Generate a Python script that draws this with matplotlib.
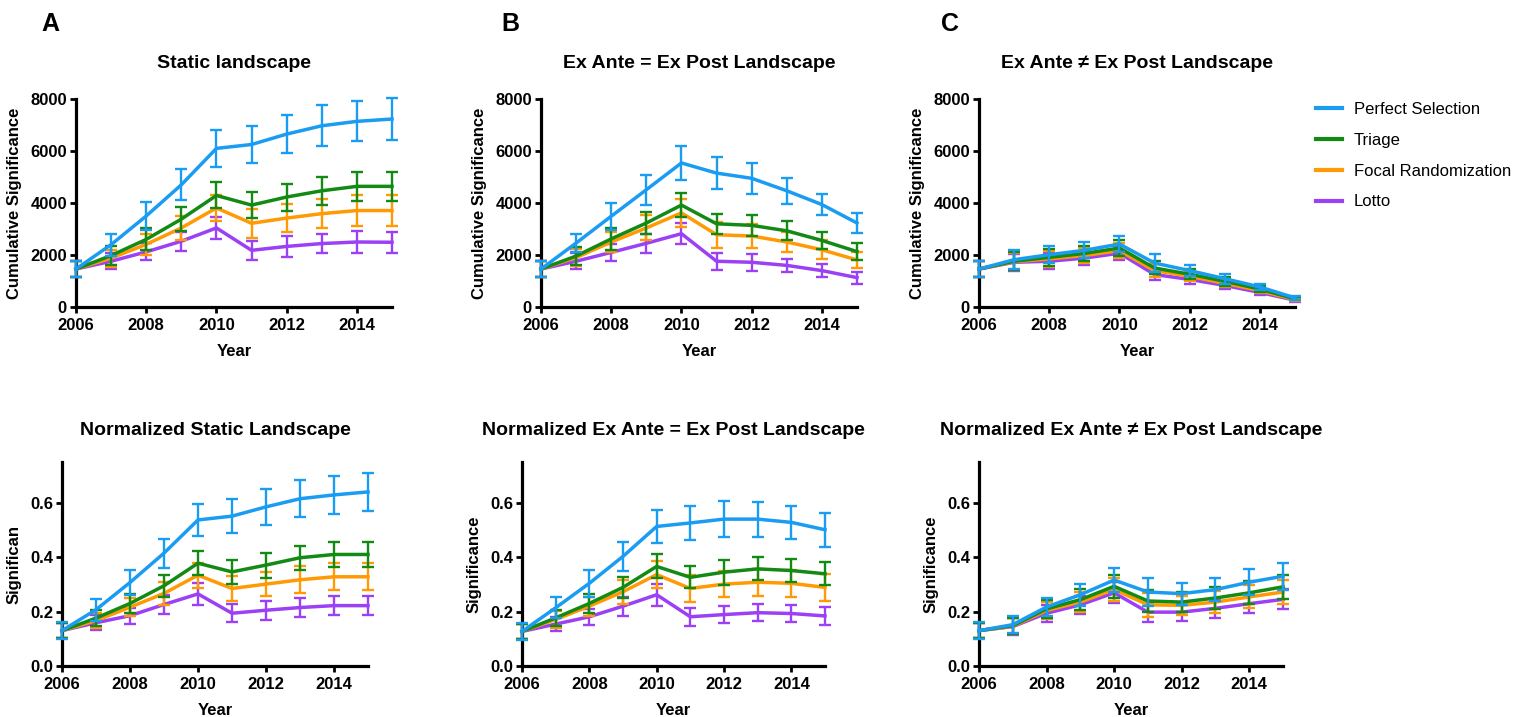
import numpy as np
import matplotlib
matplotlib.use("Agg")
import matplotlib.pyplot as plt

plt.rcParams['font.family'] = ['Liberation Sans', 'DejaVu Sans']

# --------------------------------------------------
# Data
# --------------------------------------------------
years = [2006, 2007, 2008, 2009, 2010, 2011, 2012, 2013, 2014, 2015]
series = ["Perfect Selection", "Triage", "Focal Randomization", "Lotto"]
colors = ["#1a9cf3", "#138a13", "#ff9a05", "#9b40f5"]

# rows: Perfect Selection, Triage, Focal Randomization, Lotto
static_mean = [
    [1460, 2400, 3500, 4700, 6100, 6250, 6650, 6970, 7140, 7230],
    [1460, 1980, 2600, 3380, 4290, 3920, 4230, 4470, 4640, 4640],
    [1460, 1880, 2410, 3040, 3810, 3220, 3420, 3590, 3710, 3710],
    [1460, 1760, 2120, 2530, 3040, 2180, 2330, 2440, 2500, 2490],
]
static_err = [
    [300, 420, 550, 600, 700, 720, 740, 790, 770, 790],
    [300, 350, 420, 450, 500, 500, 520, 540, 560, 560],
    [300, 330, 400, 460, 510, 550, 550, 560, 580, 580],
    [300, 300, 330, 370, 420, 370, 390, 380, 410, 400],
]

equal_mean = [
    [1460, 2460, 3490, 4510, 5540, 5150, 4950, 4470, 3940, 3230],
    [1460, 1960, 2620, 3230, 3920, 3200, 3140, 2930, 2560, 2130],
    [1460, 1900, 2500, 3040, 3620, 2780, 2730, 2500, 2200, 1810],
    [1460, 1760, 2100, 2450, 2820, 1760, 1720, 1600, 1400, 1130],
]
equal_err = [
    [300, 360, 520, 570, 640, 620, 600, 500, 420, 390],
    [300, 340, 420, 430, 460, 390, 410, 370, 340, 330],
    [300, 330, 400, 480, 530, 500, 450, 400, 360, 320],
    [300, 300, 330, 370, 410, 320, 330, 260, 250, 230],
]

unequal_mean = [
    [1460, 1820, 2010, 2180, 2420, 1690, 1400, 1090, 770, 350],
    [1460, 1760, 1910, 2060, 2270, 1500, 1260, 990, 690, 310],
    [1460, 1740, 1850, 1980, 2170, 1400, 1180, 910, 630, 280],
    [1460, 1720, 1760, 1880, 2070, 1250, 1060, 830, 560, 260],
]
unequal_err = [
    [300, 360, 320, 310, 320, 330, 220, 190, 100, 80],
    [300, 340, 330, 300, 300, 250, 200, 170, 110, 60],
    [300, 330, 320, 300, 290, 240, 190, 160, 100, 60],
    [300, 320, 300, 280, 280, 220, 180, 150, 90, 50],
]

norm_static_mean = [
    [0.130, 0.207, 0.307, 0.415, 0.537, 0.551, 0.585, 0.615, 0.629, 0.640],
    [0.130, 0.176, 0.230, 0.295, 0.378, 0.346, 0.371, 0.398, 0.410, 0.410],
    [0.130, 0.167, 0.216, 0.267, 0.334, 0.285, 0.301, 0.317, 0.328, 0.328],
    [0.130, 0.159, 0.185, 0.226, 0.265, 0.194, 0.205, 0.215, 0.222, 0.222],
]
norm_static_err = [
    [0.030, 0.040, 0.047, 0.053, 0.060, 0.062, 0.065, 0.068, 0.069, 0.070],
    [0.027, 0.030, 0.035, 0.040, 0.045, 0.044, 0.046, 0.045, 0.047, 0.047],
    [0.027, 0.028, 0.033, 0.042, 0.046, 0.047, 0.045, 0.049, 0.050, 0.050],
    [0.027, 0.027, 0.030, 0.035, 0.040, 0.034, 0.035, 0.034, 0.034, 0.034],
]

norm_equal_mean = [
    [0.127, 0.214, 0.304, 0.403, 0.513, 0.526, 0.540, 0.540, 0.528, 0.501],
    [0.127, 0.177, 0.230, 0.289, 0.366, 0.326, 0.345, 0.357, 0.351, 0.339],
    [0.127, 0.171, 0.220, 0.273, 0.336, 0.285, 0.301, 0.308, 0.304, 0.289],
    [0.127, 0.154, 0.181, 0.220, 0.262, 0.181, 0.189, 0.196, 0.193, 0.184],
]
norm_equal_err = [
    [0.030, 0.038, 0.050, 0.054, 0.060, 0.062, 0.066, 0.064, 0.060, 0.062],
    [0.027, 0.030, 0.036, 0.040, 0.044, 0.040, 0.046, 0.042, 0.044, 0.043],
    [0.027, 0.030, 0.035, 0.045, 0.050, 0.050, 0.048, 0.049, 0.050, 0.050],
    [0.027, 0.027, 0.030, 0.035, 0.040, 0.033, 0.032, 0.031, 0.031, 0.033],
]

norm_unequal_mean = [
    [0.130, 0.152, 0.217, 0.262, 0.316, 0.272, 0.266, 0.281, 0.308, 0.330],
    [0.130, 0.148, 0.210, 0.244, 0.293, 0.239, 0.235, 0.250, 0.269, 0.291],
    [0.130, 0.146, 0.204, 0.235, 0.281, 0.225, 0.223, 0.235, 0.254, 0.272],
    [0.130, 0.145, 0.194, 0.225, 0.269, 0.198, 0.198, 0.212, 0.229, 0.245],
]
norm_unequal_err = [
    [0.030, 0.030, 0.033, 0.041, 0.044, 0.053, 0.040, 0.043, 0.048, 0.049],
    [0.027, 0.030, 0.033, 0.038, 0.042, 0.042, 0.038, 0.040, 0.042, 0.045],
    [0.027, 0.030, 0.033, 0.037, 0.042, 0.045, 0.036, 0.040, 0.042, 0.045],
    [0.027, 0.030, 0.032, 0.033, 0.038, 0.035, 0.032, 0.036, 0.035, 0.037],
]

# --------------------------------------------------
# Layout (pixel boxes converted to figure fractions)
# --------------------------------------------------
W, H = 1515, 717
fig = plt.figure(figsize=(W / 100, H / 100), dpi=100)


def px_axes(x0, x1, ytop, ybot):
    return fig.add_axes([x0 / W, 1 - ybot / H, (x1 - x0) / W, (ybot - ytop) / H])


def panel(ax, mean, err, title, ylabel, top_row):
    for i in [3, 2, 1, 0]:
        cont = ax.errorbar(years, mean[i], yerr=err[i], color=colors[i], lw=2.5,
                           elinewidth=1.7, capsize=4, capthick=1.7,
                           label=series[i], zorder=3 + (3 - i))
        data_line, caps, bars = cont.lines
        data_line.set_clip_on(False)
        for a in list(caps) + list(bars):
            a.set_clip_on(False)
    ax.set_xlim(2006, 2015)
    ax.set_xticks([2006, 2008, 2010, 2012, 2014])
    if top_row:
        ax.set_ylim(0, 8000)
        ax.set_yticks([0, 2000, 4000, 6000, 8000])
    else:
        ax.set_ylim(0, 0.75)
        ax.set_yticks([0.0, 0.2, 0.4, 0.6])
        ax.set_yticklabels(["0.0", "0.2", "0.4", "0.6"])
    for s in ["top", "right"]:
        ax.spines[s].set_visible(False)
    for s in ["left", "bottom"]:
        ax.spines[s].set_linewidth(2.3)
    ax.tick_params(axis="x", direction="out", length=4.5, width=2, pad=3.5, labelsize=12)
    ax.tick_params(axis="y", direction="out", length=4.5, width=2, pad=2, labelsize=12)
    for lab in ax.get_xticklabels() + ax.get_yticklabels():
        lab.set_fontweight("bold")
    ax.set_xlabel("Year", fontsize=12, fontweight="bold", labelpad=8)
    ax.set_ylabel(ylabel, fontsize=12, fontweight="bold", labelpad=6)
    ax.patch.set_alpha(0)
    pos = ax.get_position()
    ty = pos.y1 + (36 if top_row else 31) / H
    fig.text((pos.x0 + pos.x1) / 2, ty, title, ha="center", va="center",
             fontsize=14, fontweight="bold")


axA = px_axes(76, 392, 99, 307)
axB = px_axes(541, 857, 99, 307)
axC = px_axes(979, 1295, 99, 307)
axD = px_axes(62, 368, 462, 666)
axE = px_axes(522, 825, 462, 666)
axF = px_axes(979, 1283, 462, 666)

panel(axA, static_mean, static_err, "Static landscape", "Cumulative Significance", True)
panel(axB, equal_mean, equal_err, "Ex Ante = Ex Post Landscape", "Cumulative Significance", True)
panel(axC, unequal_mean, unequal_err, "Ex Ante \u2260 Ex Post Landscape", "Cumulative Significance", True)
panel(axD, norm_static_mean, norm_static_err, "Normalized Static Landscape", "Significan", False)
panel(axE, norm_equal_mean, norm_equal_err, "Normalized Ex Ante = Ex Post Landscape", "Significance", False)
panel(axF, norm_unequal_mean, norm_unequal_err, "Normalized Ex Ante \u2260 Ex Post Landscape", "Significance", False)

# panel letters
for letter, x in [("A", 50), ("B", 510), ("C", 950)]:
    fig.text(x / W, 1 - 24 / H, letter, ha="center", va="center",
             fontsize=18, fontweight="bold")

# legend (lines only, no error bars)
handles = [plt.Line2D([], [], color=c, lw=3) for c in colors]
fig.legend(handles, series, loc="upper left",
           bbox_to_anchor=(1316 / W, 1 - 102 / H), frameon=False,
           fontsize=12, handlelength=1.55, handletextpad=0.7,
           labelspacing=0.95, borderpad=0, borderaxespad=0)

fig.savefig("out.png", dpi=100)
